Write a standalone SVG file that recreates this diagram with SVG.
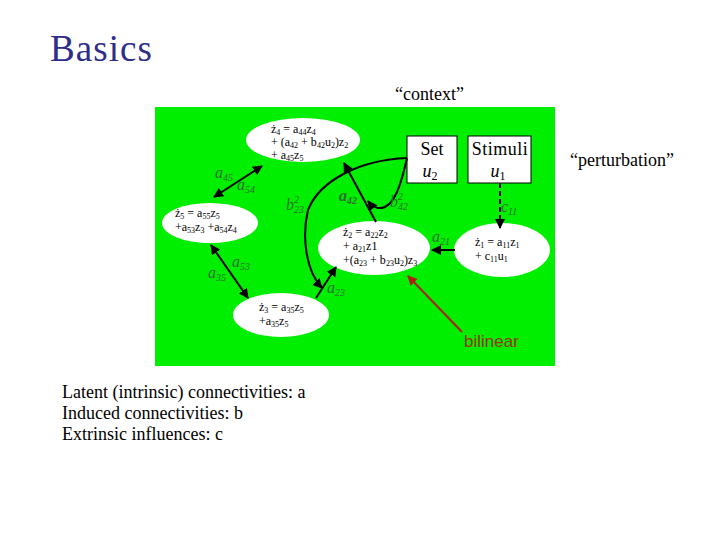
<svg xmlns="http://www.w3.org/2000/svg" width="720" height="540" viewBox="0 0 720 540">
<defs>
<marker id="ah" viewBox="0 0 10 10" refX="9" refY="5" markerWidth="5" markerHeight="5" orient="auto-start-reverse"><path d="M0,0 L10,5 L0,10 z" fill="#000"/></marker>
<marker id="ahr" viewBox="0 0 10 10" refX="9" refY="5" markerWidth="5" markerHeight="5" orient="auto"><path d="M0,0 L10,5 L0,10 z" fill="#b02010"/></marker>
<style>
.eq{font-size:12px;fill:#000}
.lb{font-size:16px;font-style:italic;fill:#2f6e2f}
.tx{font-size:18px;fill:#000}
.ell{fill:#fff;stroke:none}
.box{fill:#fff;stroke:#000;stroke-width:1}
.ln{fill:none;stroke:#000;stroke-width:2}
.s{font-size:8px}
.ls{font-size:10px}
</style>
</defs>
<rect width="720" height="540" fill="#fff"/>
<text x="50" y="61" font-family="Liberation Serif, serif" font-size="37" textLength="102" fill="#2e2e8a">Basics</text>
<text x="395" y="100" class="tx" font-family="Liberation Serif, serif">“context”</text>
<text x="570" y="166" class="tx" font-family="Liberation Serif, serif">“perturbation”</text>
<rect x="155" y="107" width="400" height="259" fill="#00ee00"/>

<g id="z4"><ellipse class="ell" cx="303" cy="140" rx="57" ry="22"/>
<text class="eq" font-family="Liberation Serif, serif" x="271" y="133">ż<tspan class="s" dy="2">4</tspan><tspan dy="-2"> = a</tspan><tspan class="s" dy="2">44</tspan><tspan dy="-2">z</tspan><tspan class="s" dy="2">4</tspan></text>
<text class="eq" font-family="Liberation Serif, serif" x="271" y="146">+ (a<tspan class="s" dy="2">42</tspan><tspan dy="-2"> + b</tspan><tspan class="s" dy="2">42</tspan><tspan dy="-2">u</tspan><tspan class="s" dy="2">2</tspan><tspan dy="-2">)z</tspan><tspan class="s" dy="2">2</tspan></text>
<text class="eq" font-family="Liberation Serif, serif" x="271" y="159">+ a<tspan class="s" dy="2">45</tspan><tspan dy="-2">z</tspan><tspan class="s" dy="2">5</tspan></text></g>

<g id="z5"><ellipse class="ell" cx="210" cy="223" rx="48" ry="20"/>
<text class="eq" font-family="Liberation Serif, serif" x="175" y="217">ż<tspan class="s" dy="2">5</tspan><tspan dy="-2"> = a</tspan><tspan class="s" dy="2">55</tspan><tspan dy="-2">z</tspan><tspan class="s" dy="2">5</tspan></text>
<text class="eq" font-family="Liberation Serif, serif" x="175" y="231">+a<tspan class="s" dy="2">53</tspan><tspan dy="-2">z</tspan><tspan class="s" dy="2">3</tspan><tspan dy="-2"> +a</tspan><tspan class="s" dy="2">54</tspan><tspan dy="-2">z</tspan><tspan class="s" dy="2">4</tspan></text></g>

<g id="z2"><ellipse class="ell" cx="374" cy="248" rx="56" ry="27"/>
<text class="eq" font-family="Liberation Serif, serif" x="343" y="236">ż<tspan class="s" dy="2">2</tspan><tspan dy="-2"> = a</tspan><tspan class="s" dy="2">22</tspan><tspan dy="-2">z</tspan><tspan class="s" dy="2">2</tspan></text>
<text class="eq" font-family="Liberation Serif, serif" x="343" y="250">+ a<tspan class="s" dy="2">21</tspan><tspan dy="-2">z1</tspan></text>
<text class="eq" font-family="Liberation Serif, serif" x="343" y="264">+(a<tspan class="s" dy="2">23</tspan><tspan dy="-2"> + b</tspan><tspan class="s" dy="2">23</tspan><tspan dy="-2">u</tspan><tspan class="s" dy="2">2</tspan><tspan dy="-2">)z</tspan><tspan class="s" dy="2">3</tspan></text></g>

<g id="z3"><ellipse class="ell" cx="281" cy="315" rx="48" ry="22"/>
<text class="eq" font-family="Liberation Serif, serif" x="259" y="311">ż<tspan class="s" dy="2">3</tspan><tspan dy="-2"> = a</tspan><tspan class="s" dy="2">35</tspan><tspan dy="-2">z</tspan><tspan class="s" dy="2">5</tspan></text>
<text class="eq" font-family="Liberation Serif, serif" x="259" y="325">+a<tspan class="s" dy="2">35</tspan><tspan dy="-2">z</tspan><tspan class="s" dy="2">5</tspan></text></g>

<g id="z1"><ellipse class="ell" cx="502" cy="250" rx="48" ry="27"/>
<text class="eq" font-family="Liberation Serif, serif" x="475" y="246">ż<tspan class="s" dy="2">1</tspan><tspan dy="-2"> = a</tspan><tspan class="s" dy="2">11</tspan><tspan dy="-2">z</tspan><tspan class="s" dy="2">1</tspan></text>
<text class="eq" font-family="Liberation Serif, serif" x="475" y="260">+ c<tspan class="s" dy="2">11</tspan><tspan dy="-2">u</tspan><tspan class="s" dy="2">1</tspan></text></g>

<g id="set"><rect class="box" x="407" y="136" width="50" height="47"/>
<text class="tx" font-family="Liberation Serif, serif" x="432" y="155" text-anchor="middle" font-size="17">Set</text>
<text class="tx" font-family="Liberation Serif, serif" x="430" y="177" text-anchor="middle" font-style="italic">u<tspan font-size="12" dy="3" font-style="normal">2</tspan></text></g>

<g id="stim"><rect class="box" x="468" y="136" width="63" height="47"/>
<text class="tx" font-family="Liberation Serif, serif" x="500" y="155" text-anchor="middle" font-size="17" letter-spacing="0.5">Stimuli</text>
<text class="tx" font-family="Liberation Serif, serif" x="498" y="177" text-anchor="middle" font-style="italic">u<tspan font-size="12" dy="3" font-style="normal">1</tspan></text></g>

<g id="connectors">
<line class="ln" x1="214" y1="197" x2="262" y2="166" marker-start="url(#ah)" marker-end="url(#ah)"/>
<line class="ln" x1="211" y1="245" x2="248" y2="298" marker-start="url(#ah)" marker-end="url(#ah)"/>
<line class="ln" x1="316" y1="298" x2="336" y2="267" marker-end="url(#ah)"/>
<line class="ln" x1="376" y1="222" x2="344" y2="163" marker-end="url(#ah)"/>
<path class="ln" d="M407,158 C360,160 320,180 308,210 C302,235 305,270 322,288" marker-end="url(#ah)"/>
<path class="ln" d="M407,158 C402,180 395,210 378,208 C374,207 371,205 368,201" marker-end="url(#ah)"/>
<line class="ln" x1="500" y1="183" x2="500" y2="228" stroke-dasharray="5,3" marker-end="url(#ah)"/>
<line class="ln" x1="455" y1="250" x2="432" y2="250" marker-end="url(#ah)"/>
<line x1="462" y1="332" x2="408" y2="276" stroke="#b02010" stroke-width="2" marker-end="url(#ahr)"/>
</g>

<g id="labels">
<text class="lb" font-family="Liberation Serif, serif" x="215" y="178">a<tspan class="ls" dy="3">45</tspan></text>
<text class="lb" font-family="Liberation Serif, serif" x="237" y="190">a<tspan class="ls" dy="3">54</tspan></text>
<text class="lb" font-family="Liberation Serif, serif" x="286" y="210">b<tspan class="ls" dy="-7">2</tspan><tspan class="ls" dx="-5" dy="10">23</tspan></text>
<text class="lb" font-family="Liberation Serif, serif" x="339" y="201" font-weight="bold">a<tspan class="ls" dy="3">42</tspan></text>
<text class="lb" font-family="Liberation Serif, serif" x="390" y="207">b<tspan class="ls" dy="-7">2</tspan><tspan class="ls" dx="-5" dy="10">42</tspan></text>
<text class="lb" font-family="Liberation Serif, serif" x="432" y="242">a<tspan class="ls" dy="3">21</tspan></text>
<text class="lb" font-family="Liberation Serif, serif" x="501" y="212">c<tspan class="ls" dy="3">11</tspan></text>
<text class="lb" font-family="Liberation Serif, serif" x="232" y="267">a<tspan class="ls" dy="3">53</tspan></text>
<text class="lb" font-family="Liberation Serif, serif" x="208" y="278">a<tspan class="ls" dy="3">35</tspan></text>
<text class="lb" font-family="Liberation Serif, serif" x="327" y="293">a<tspan class="ls" dy="3">23</tspan></text>
<text x="464" y="347" font-family="Liberation Sans, sans-serif" font-size="17" fill="#993300">bilinear</text>
</g>

<text class="tx" font-family="Liberation Serif, serif" x="62" y="398">Latent (intrinsic) connectivities: a</text>
<text class="tx" font-family="Liberation Serif, serif" x="62" y="419">Induced connectivities: b</text>
<text class="tx" font-family="Liberation Serif, serif" x="62" y="440">Extrinsic influences: c</text>
</svg>
